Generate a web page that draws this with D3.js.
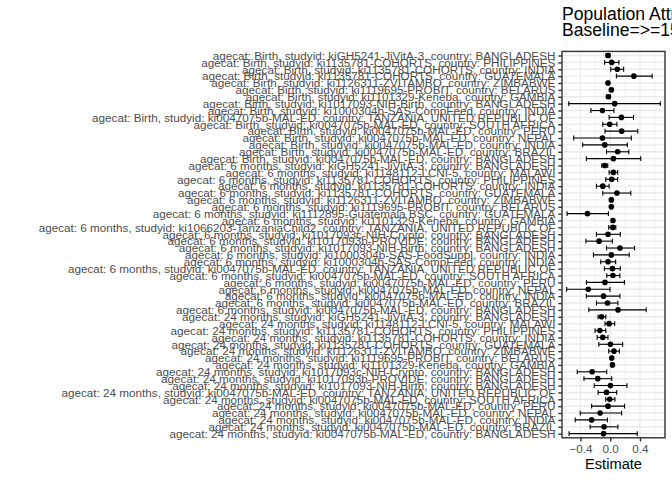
<!DOCTYPE html>
<html>
<head>
<meta charset="utf-8">
<script src="https://cdn.jsdelivr.net/npm/d3@7"></script>
<style>
  html, body { margin: 0; padding: 0; background: #ffffff; }
  svg { display: block; font-family: "Liberation Sans", Arial, Helvetica, sans-serif; }
</style>
</head>
<body>
<div id="chart"></div>
<script>
// ---------------- data (top-to-bottom order) ----------------
const titleLines = ["Population Attributable Difference", "Baseline=>=155 cm"];
const xAxisTitle = "Estimate";
const xTicks = [-0.4, 0.0, 0.4];
const xMinorTicks = [-0.6, -0.2, 0.2, 0.6];

const categories = [
  "agecat: Birth, studyid: kiGH5241-JiVitA-3, country: BANGLADESH",
  "agecat: Birth, studyid: ki1135781-COHORTS, country: PHILIPPINES",
  "agecat: Birth, studyid: ki1135781-COHORTS, country: INDIA",
  "agecat: Birth, studyid: ki1135781-COHORTS, country: GUATEMALA",
  "agecat: Birth, studyid: ki1126311-ZVITAMBO, country: ZIMBABWE",
  "agecat: Birth, studyid: ki1119695-PROBIT, country: BELARUS",
  "agecat: Birth, studyid: ki1101329-Keneba, country: GAMBIA",
  "agecat: Birth, studyid: ki1017093-NIH-Birth, country: BANGLADESH",
  "agecat: Birth, studyid: ki1000304b-SAS-CompFeed, country: INDIA",
  "agecat: Birth, studyid: ki0047075b-MAL-ED, country: TANZANIA, UNITED REPUBLIC OF",
  "agecat: Birth, studyid: ki0047075b-MAL-ED, country: SOUTH AFRICA",
  "agecat: Birth, studyid: ki0047075b-MAL-ED, country: PERU",
  "agecat: Birth, studyid: ki0047075b-MAL-ED, country: NEPAL",
  "agecat: Birth, studyid: ki0047075b-MAL-ED, country: INDIA",
  "agecat: Birth, studyid: ki0047075b-MAL-ED, country: BRAZIL",
  "agecat: Birth, studyid: ki0047075b-MAL-ED, country: BANGLADESH",
  "agecat: 6 months, studyid: kiGH5241-JiVitA-3, country: BANGLADESH",
  "agecat: 6 months, studyid: ki1148112-LCNI-5, country: MALAWI",
  "agecat: 6 months, studyid: ki1135781-COHORTS, country: PHILIPPINES",
  "agecat: 6 months, studyid: ki1135781-COHORTS, country: INDIA",
  "agecat: 6 months, studyid: ki1135781-COHORTS, country: GUATEMALA",
  "agecat: 6 months, studyid: ki1126311-ZVITAMBO, country: ZIMBABWE",
  "agecat: 6 months, studyid: ki1119695-PROBIT, country: BELARUS",
  "agecat: 6 months, studyid: ki1112895-Guatemala BSC, country: GUATEMALA",
  "agecat: 6 months, studyid: ki1101329-Keneba, country: GAMBIA",
  "agecat: 6 months, studyid: ki1066203-TanzaniaChild2, country: TANZANIA, UNITED REPUBLIC OF",
  "agecat: 6 months, studyid: ki1017093c-NIH-Crypto, country: BANGLADESH",
  "agecat: 6 months, studyid: ki1017093b-PROVIDE, country: BANGLADESH",
  "agecat: 6 months, studyid: ki1017093-NIH-Birth, country: BANGLADESH",
  "agecat: 6 months, studyid: ki1000304b-SAS-FoodSuppl, country: INDIA",
  "agecat: 6 months, studyid: ki1000304b-SAS-CompFeed, country: INDIA",
  "agecat: 6 months, studyid: ki0047075b-MAL-ED, country: TANZANIA, UNITED REPUBLIC OF",
  "agecat: 6 months, studyid: ki0047075b-MAL-ED, country: SOUTH AFRICA",
  "agecat: 6 months, studyid: ki0047075b-MAL-ED, country: PERU",
  "agecat: 6 months, studyid: ki0047075b-MAL-ED, country: NEPAL",
  "agecat: 6 months, studyid: ki0047075b-MAL-ED, country: INDIA",
  "agecat: 6 months, studyid: ki0047075b-MAL-ED, country: BRAZIL",
  "agecat: 6 months, studyid: ki0047075b-MAL-ED, country: BANGLADESH",
  "agecat: 24 months, studyid: kiGH5241-JiVitA-3, country: BANGLADESH",
  "agecat: 24 months, studyid: ki1148112-LCNI-5, country: MALAWI",
  "agecat: 24 months, studyid: ki1135781-COHORTS, country: PHILIPPINES",
  "agecat: 24 months, studyid: ki1135781-COHORTS, country: INDIA",
  "agecat: 24 months, studyid: ki1135781-COHORTS, country: GUATEMALA",
  "agecat: 24 months, studyid: ki1126311-ZVITAMBO, country: ZIMBABWE",
  "agecat: 24 months, studyid: ki1119695-PROBIT, country: BELARUS",
  "agecat: 24 months, studyid: ki1101329-Keneba, country: GAMBIA",
  "agecat: 24 months, studyid: ki1017093c-NIH-Crypto, country: BANGLADESH",
  "agecat: 24 months, studyid: ki1017093b-PROVIDE, country: BANGLADESH",
  "agecat: 24 months, studyid: ki1017093-NIH-Birth, country: BANGLADESH",
  "agecat: 24 months, studyid: ki0047075b-MAL-ED, country: TANZANIA, UNITED REPUBLIC OF",
  "agecat: 24 months, studyid: ki0047075b-MAL-ED, country: SOUTH AFRICA",
  "agecat: 24 months, studyid: ki0047075b-MAL-ED, country: PERU",
  "agecat: 24 months, studyid: ki0047075b-MAL-ED, country: NEPAL",
  "agecat: 24 months, studyid: ki0047075b-MAL-ED, country: INDIA",
  "agecat: 24 months, studyid: ki0047075b-MAL-ED, country: BRAZIL",
  "agecat: 24 months, studyid: ki0047075b-MAL-ED, country: BANGLADESH"
];

const estimates = [
  -0.030, 0.020, 0.095, 0.317, -0.030, 0.015, -0.025, 0.060, -0.105, 0.150,
  -0.007, 0.153, -0.105, -0.073, 0.100, 0.043,
  -0.073, 0.043, 0.020, -0.100, 0.090, 0.015, 0.015, -0.305, 0.037, 0.035,
  -0.030, -0.150, 0.130, 0.015, -0.030, 0.030, 0.037, -0.070, -0.295, -0.090,
  -0.037, 0.105,
  -0.117, -0.015, -0.140, -0.100, 0.003, 0.050, 0.020, 0.030, -0.243, -0.167,
  0.003, -0.050, -0.007, -0.030, -0.136, -0.250, -0.083, -0.090
];
const lowerCI = [
  -0.055, -0.075, 0.007, 0.083, -0.045, 0.000, -0.050, -0.557, -0.260, -0.015,
  -0.100, -0.070, -0.490, -0.370, -0.050, -0.320,
  -0.113, -0.015, -0.060, -0.185, -0.100, 0.005, 0.005, -0.580, 0.025, -0.020,
  -0.185, -0.327, -0.050, -0.225, -0.127, -0.078, -0.047, -0.320, -0.585, -0.320,
  -0.185, -0.287,
  -0.163, -0.070, -0.203, -0.175, -0.153, -0.020, 0.010, 0.020, -0.443, -0.353,
  -0.215, -0.163, -0.060, -0.250, -0.403, -0.470, -0.270, -0.553
];
const upperCI = [
  -0.005, 0.117, 0.180, 0.563, -0.015, 0.030, 0.000, 0.673, 0.050, 0.313,
  0.090, 0.370, 0.283, 0.230, 0.250, 0.410,
  -0.033, 0.100, 0.100, -0.015, 0.277, 0.025, 0.025, -0.025, 0.050, 0.075,
  0.135, 0.030, 0.327, 0.255, 0.073, 0.135, 0.130, 0.190, -0.003, 0.130,
  0.103, 0.483,
  -0.060, 0.060, -0.060, -0.030, 0.167, 0.123, 0.030, 0.040, -0.047, 0.020,
  0.225, 0.087, 0.063, 0.193, 0.153, -0.037, 0.103, 0.363
];

const rows = categories.map((c, i) => ({ cat: c, est: estimates[i], lo: lowerCI[i], hi: upperCI[i] }));

// ---------------- layout ----------------
const W = 672, H = 480;
const panel = { left: 562, right: 665, top: 51.4, bottom: 437.8 };

const svg = d3.select("#chart").append("svg").attr("width", W).attr("height", H);
svg.append("rect").attr("width", W).attr("height", H).attr("fill", "#ffffff");

// x scale with ggplot-style 5% expansion
const lo = d3.min(lowerCI), hi = d3.max(upperCI);
const pad = (hi - lo) * 0.05;
const x = d3.scaleLinear().domain([lo - pad, hi + pad]).range([panel.left, panel.right]);
const y = d3.scalePoint().domain(categories).range([panel.top, panel.bottom]).padding(0.6);
const step = y.step();

const gPanel = svg.append("g");
// minor vertical grid
gPanel.selectAll("line.minor").data(xMinorTicks.filter(v => x(v) > panel.left && x(v) < panel.right))
  .join("line").attr("class", "minor")
  .attr("x1", d => x(d)).attr("x2", d => x(d)).attr("y1", panel.top).attr("y2", panel.bottom)
  .attr("stroke", "#ebebeb").attr("stroke-width", 0.71);
// major vertical grid
gPanel.selectAll("line.vmajor").data(xTicks)
  .join("line").attr("class", "vmajor")
  .attr("x1", d => x(d)).attr("x2", d => x(d)).attr("y1", panel.top).attr("y2", panel.bottom)
  .attr("stroke", "#ebebeb").attr("stroke-width", 1.42);
// major horizontal grid (one per category)
gPanel.selectAll("line.hmajor").data(categories)
  .join("line").attr("class", "hmajor")
  .attr("x1", panel.left).attr("x2", panel.right).attr("y1", d => y(d)).attr("y2", d => y(d))
  .attr("stroke", "#ebebeb").attr("stroke-width", 1.42);

// error bars
const capHalf = step * 0.35;
const gErr = svg.append("g").attr("stroke", "#000").attr("stroke-width", 1.1).attr("fill", "none");
rows.forEach(r => {
  const yy = y(r.cat);
  gErr.append("line").attr("x1", x(r.lo)).attr("x2", x(r.hi)).attr("y1", yy).attr("y2", yy);
  gErr.append("line").attr("x1", x(r.lo)).attr("x2", x(r.lo)).attr("y1", yy - capHalf).attr("y2", yy + capHalf);
  gErr.append("line").attr("x1", x(r.hi)).attr("x2", x(r.hi)).attr("y1", yy - capHalf).attr("y2", yy + capHalf);
});
// points
svg.append("g").selectAll("circle").data(rows).join("circle")
  .attr("cx", d => x(d.est)).attr("cy", d => y(d.cat)).attr("r", 2.8).attr("fill", "#000");

// panel border
svg.append("rect").attr("x", panel.left).attr("y", panel.top)
  .attr("width", panel.right - panel.left).attr("height", panel.bottom - panel.top)
  .attr("fill", "none").attr("stroke", "#333333").attr("stroke-width", 1.42);

// axes
const yAxis = svg.append("g").attr("transform", `translate(${panel.left},0)`)
  .call(d3.axisLeft(y).tickSize(3.67).tickPadding(2.93));
const xAxis = svg.append("g").attr("transform", `translate(0,${panel.bottom})`)
  .call(d3.axisBottom(x).tickValues(xTicks).tickFormat(d3.format(".1f")).tickSize(3.67).tickPadding(2.93));
[yAxis, xAxis].forEach(a => {
  a.select(".domain").remove();
  a.selectAll(".tick line").attr("stroke", "#333333").attr("stroke-width", 1.42);
  a.selectAll(".tick text").attr("fill", "#4d4d4d").style("font-size", "11.7px")
    .style("font-family", '"Liberation Sans", Arial, Helvetica, sans-serif');
});
xAxis.selectAll(".tick text").text(d => d3.format(".1f")(d).replace("-", "-"));

// axis title
svg.append("text").attr("x", (panel.left + panel.right) / 2).attr("y", 469)
  .attr("text-anchor", "middle").attr("fill", "#000").style("font-size", "14.67px").text(xAxisTitle);

// title
const title = svg.append("text").attr("x", panel.left).attr("fill", "#000").style("font-size", "17.6px");
titleLines.forEach((t, i) => title.append("tspan").attr("x", panel.left).attr("y", 20 + i * 16).text(t));
</script>
</body>
</html>
